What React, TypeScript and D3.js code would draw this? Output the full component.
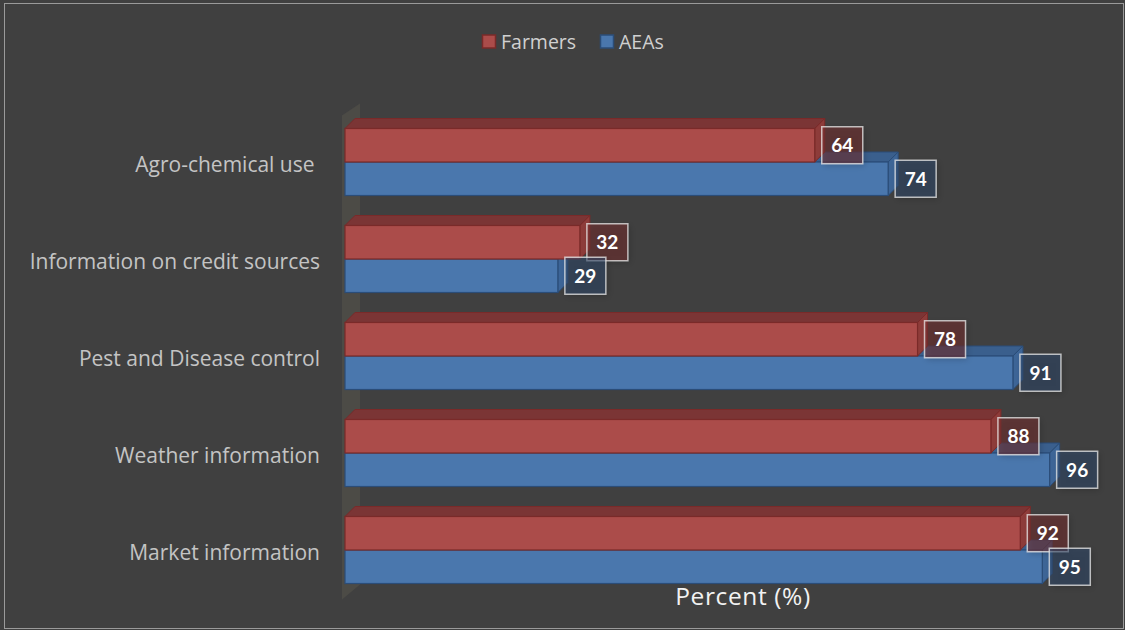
import React from "react";
import * as d3 from "d3";

const categories = ["Agro-chemical use ", "Information on credit sources", "Pest and Disease control", "Weather information", "Market information"];
const seriesNames = ["Farmers", "AEAs"];
const farmers = [64, 32, 78, 88, 92];
const aeas = [74, 29, 91, 96, 95];
const axisTitle = "Percent (%)";

const W = 1125, H = 630;
const DX = 10, DY = -10;
const FONT = "'Open Sans', Lato, sans-serif";
const LFONT = "Lato, 'Open Sans', sans-serif";

const palette = {
  Farmers: { front: "#ab4c4a", top: "#7b3535", side: "#8e3c3a", stroke: "#7a2a29", labelFill: "rgba(120,50,50,0.55)" },
  AEAs: { front: "#4a77ad", top: "#3a5f8d", side: "#3d6597", stroke: "#2b4d78", labelFill: "rgba(50,75,110,0.55)" },
} as Record<string, any>;

export default function App() {
  const x = d3.scaleLinear().domain([0, 100]).range([345, 1079]);
  const y = d3.scaleBand().domain(categories).range([113.5, 598.5]).paddingInner(30 / 97).paddingOuter(15 / 97);
  const sub = d3.scaleBand().domain(seriesNames).range([0, y.bandwidth()]);
  const values: Record<string, number[]> = { Farmers: farmers, AEAs: aeas };

  const bar = (name: string, v: number, cat: string) => {
    const c = palette[name];
    const x0 = x(0), x1 = x(v);
    const y0 = (y(cat) as number) + (sub(name) as number);
    const h = sub.bandwidth();
    const top = `M${x0},${y0} L${x0 + DX},${y0 + DY} L${x1 + DX},${y0 + DY} L${x1},${y0} Z`;
    const side = `M${x1},${y0} L${x1 + DX},${y0 + DY} L${x1 + DX},${y0 + h + DY} L${x1},${y0 + h} Z`;
    return (
      <g key={name + cat}>
        <path d={top} fill={c.top} stroke={c.stroke} strokeWidth={1} strokeLinejoin="round" />
        <path d={side} fill={c.side} stroke={c.stroke} strokeWidth={1} strokeLinejoin="round" />
        <rect x={x0} y={y0} width={x1 - x0} height={h} fill={c.front} stroke={c.stroke} strokeWidth={1.2} />
      </g>
    );
  };

  const label = (name: string, v: number, cat: string) => {
    const c = palette[name];
    const y0 = (y(cat) as number) + (sub(name) as number);
    const h = sub.bandwidth();
    const bx = x(v) + 7;
    const cy = y0 + h / 2;
    return (
      <g key={"l" + name + cat}>
        <rect x={bx + 2} y={cy - 16.5} width={41} height={37} fill="rgba(0,0,0,0.18)" filter="url(#blur)" />
        <rect x={bx} y={cy - 18.5} width={41} height={37} fill={c.labelFill} stroke="rgba(235,235,235,0.75)" strokeWidth={1.5} />
        <text x={bx + 20.5} y={cy + 7} textAnchor="middle" fill="#ffffff" fontFamily={LFONT} fontWeight={700} fontSize={19}>{v}</text>
      </g>
    );
  };

  const yTop = y(categories[0]) as number;
  const yBot = (y(categories[categories.length - 1]) as number) + y.bandwidth();

  return (
    <svg width={W} height={H} style={{ position: "absolute", left: 0, top: 0 }}>
      <defs>
        <filter id="blur" x="-30%" y="-30%" width="160%" height="160%">
          <feGaussianBlur stdDeviation="3" />
        </filter>
      </defs>
      <rect x={0} y={0} width={W} height={H} fill="#404040" />
      <rect x={4.5} y={3.5} width={W - 6} height={H - 5} fill="none" stroke="#9a9a9a" strokeWidth={1} />
      {/* side wall */}
      <path d={`M${x(0) - 3},${yTop - 13} L${x(0) + 15},${yTop - 25} L${x(0) + 15},${yBot + 1} L${x(0) - 3},${yBot + 16} Z`} fill="#4c4b46" />
      {/* legend */}
      <g fontFamily={FONT} fontSize={19.5} fill="#d0d0d0">
        <rect x={482.5} y={35} width={13} height={13} fill={palette.Farmers.front} stroke={palette.Farmers.stroke} strokeWidth={1.5} />
        <text x={501} y={49}>{seriesNames[0]}</text>
        <rect x={600.5} y={35} width={13} height={13} fill={palette.AEAs.front} stroke={palette.AEAs.stroke} strokeWidth={1.5} />
        <text x={619} y={49}>{seriesNames[1]}</text>
      </g>
      {/* categories */}
      {categories.map((cat) => (
        <text key={cat} x={320} y={(y(cat) as number) + y.bandwidth() / 2 + 9.5} textAnchor="end" fontFamily={FONT} fontSize={21} fill="#c4c4c4" style={{ whiteSpace: "pre" }}>{cat}</text>
      ))}
      {categories.map((cat, i) => (
        <g key={"g" + cat}>
          {bar("AEAs", values.AEAs[i], cat)}
          {bar("Farmers", values.Farmers[i], cat)}
        </g>
      ))}
      {categories.map((cat, i) => (
        <g key={"lab" + cat}>
          {label("Farmers", values.Farmers[i], cat)}
          {label("AEAs", values.AEAs[i], cat)}
        </g>
      ))}
      <text x={743} y={605} textAnchor="middle" fontFamily={FONT} fontSize={24.5} letterSpacing={0.6} fill="#f2f2f2">{axisTitle}</text>
    </svg>
  );
}
